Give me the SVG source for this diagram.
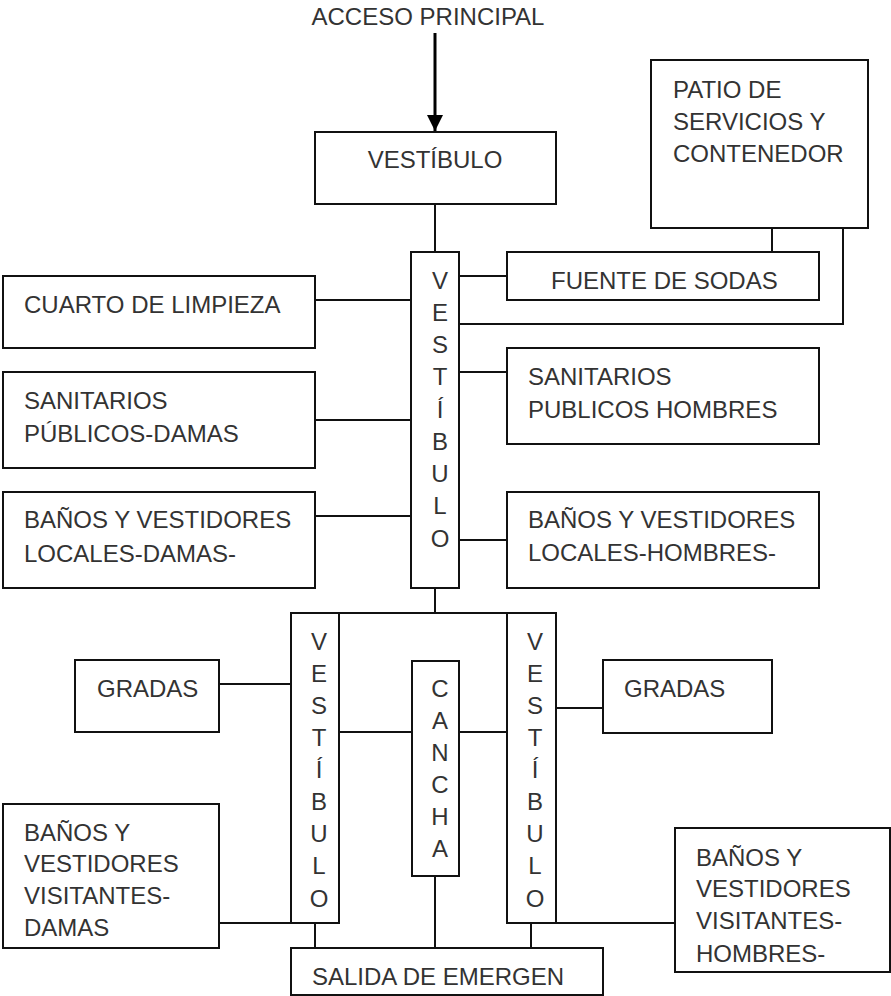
<svg xmlns="http://www.w3.org/2000/svg" width="891" height="996" viewBox="0 0 891 996">
<defs>
<style>
.b{fill:#fff;stroke:#111;stroke-width:2}
.c{fill:none;stroke:#111;stroke-width:2}
.t{font-family:"Liberation Sans",Arial,sans-serif;font-size:24px;fill:#333}
.m{text-anchor:middle}
</style>
<marker id="ah" viewBox="0 0 10 10" refX="10" refY="5" markerWidth="5.5" markerHeight="5.5" orient="auto" markerUnits="strokeWidth">
<path d="M0,0 L10,5 L0,10 Z" fill="#000"/>
</marker>
</defs>
<rect width="891" height="996" fill="#fff"/>
<g id="connectors">
<line x1="435" y1="33" x2="435" y2="131" stroke="#000" stroke-width="3" marker-end="url(#ah)"/>
<path class="c" d="M435,204 V252"/>
<path class="c" d="M460,276 H507"/>
<path class="c" d="M772,228 V252"/>
<path class="c" d="M843,228 V324 H460"/>
<path class="c" d="M315,300 H411"/>
<path class="c" d="M315,420 H411"/>
<path class="c" d="M315,516 H411"/>
<path class="c" d="M460,372 H507"/>
<path class="c" d="M460,540 H507"/>
<path class="c" d="M435,588 V613"/>
<path class="c" d="M291,613 H556"/>
<path class="c" d="M219,684 H291"/>
<path class="c" d="M339,732 H412"/>
<path class="c" d="M459,732 H507"/>
<path class="c" d="M556,708 H603"/>
<path class="c" d="M219,923 H291"/>
<path class="c" d="M556,923 H675"/>
<path class="c" d="M315,923 V948"/>
<path class="c" d="M435,876 V948"/>
<path class="c" d="M531,923 V948"/>
</g>
<text class="t m" x="428" y="25">ACCESO PRINCIPAL</text>
<g id="vestibulo-top">
<rect class="b" x="315" y="132" width="241" height="72"/>
<text class="t m" x="435" y="168">VESTÍBULO</text>
</g>
<g id="patio">
<rect class="b" x="651" y="60" width="217" height="168"/>
<text class="t" x="673" y="98">PATIO DE</text>
<text class="t" x="673" y="130">SERVICIOS Y</text>
<text class="t" x="673" y="162">CONTENEDOR</text>
</g>
<g id="vestibulo-central">
<rect class="b" x="411" y="252" width="48" height="336"/>
<text class="t m"><tspan x="440" y="289">V</tspan><tspan x="440" y="321">E</tspan><tspan x="440" y="353">S</tspan><tspan x="440" y="385">T</tspan><tspan x="440" y="418">Í</tspan><tspan x="440" y="450">B</tspan><tspan x="440" y="482">U</tspan><tspan x="440" y="514">L</tspan><tspan x="440" y="547">O</tspan></text>
</g>
<g id="fuente">
<rect class="b" x="507" y="252" width="312" height="48"/>
<text class="t" x="551" y="289">FUENTE DE SODAS</text>
</g>
<g id="cuarto-limpieza">
<rect class="b" x="3" y="276" width="312" height="72"/>
<text class="t" x="24" y="313">CUARTO DE LIMPIEZA</text>
</g>
<g id="sanitarios-damas">
<rect class="b" x="3" y="372" width="312" height="96"/>
<text class="t" x="24" y="409">SANITARIOS</text>
<text class="t" x="24" y="442">PÚBLICOS-DAMAS</text>
</g>
<g id="banos-locales-damas">
<rect class="b" x="3" y="492" width="312" height="96"/>
<text class="t" x="24" y="528">BAÑOS Y VESTIDORES</text>
<text class="t" x="24" y="562">LOCALES-DAMAS-</text>
</g>
<g id="sanitarios-hombres">
<rect class="b" x="507" y="348" width="312" height="96"/>
<text class="t" x="528" y="385">SANITARIOS</text>
<text class="t" x="528" y="418">PUBLICOS HOMBRES</text>
</g>
<g id="banos-locales-hombres">
<rect class="b" x="507" y="492" width="312" height="96"/>
<text class="t" x="528" y="528">BAÑOS Y VESTIDORES</text>
<text class="t" x="528" y="561">LOCALES-HOMBRES-</text>
</g>
<g id="vestibulo-izq">
<rect class="b" x="291" y="613" width="48" height="310"/>
<text class="t m"><tspan x="319" y="650">V</tspan><tspan x="319" y="682">E</tspan><tspan x="319" y="714">S</tspan><tspan x="319" y="746">T</tspan><tspan x="319" y="778">Í</tspan><tspan x="319" y="810">B</tspan><tspan x="319" y="842">U</tspan><tspan x="319" y="874">L</tspan><tspan x="319" y="907">O</tspan></text>
</g>
<g id="vestibulo-der">
<rect class="b" x="507" y="613" width="49" height="310"/>
<text class="t m"><tspan x="535" y="650">V</tspan><tspan x="535" y="682">E</tspan><tspan x="535" y="714">S</tspan><tspan x="535" y="746">T</tspan><tspan x="535" y="778">Í</tspan><tspan x="535" y="810">B</tspan><tspan x="535" y="842">U</tspan><tspan x="535" y="874">L</tspan><tspan x="535" y="907">O</tspan></text>
</g>
<g id="cancha">
<rect class="b" x="412" y="661" width="47" height="215"/>
<text class="t m"><tspan x="440" y="697">C</tspan><tspan x="440" y="729">A</tspan><tspan x="440" y="761">N</tspan><tspan x="440" y="793">C</tspan><tspan x="440" y="825">H</tspan><tspan x="440" y="857">A</tspan></text>
</g>
<g id="gradas-izq">
<rect class="b" x="75" y="660" width="144" height="72"/>
<text class="t" x="97" y="697">GRADAS</text>
</g>
<g id="gradas-der">
<rect class="b" x="603" y="660" width="169" height="73"/>
<text class="t" x="624" y="697">GRADAS</text>
</g>
<g id="banos-visitantes-damas">
<rect class="b" x="3" y="804" width="216" height="144"/>
<text class="t" x="24" y="841">BAÑOS Y</text>
<text class="t" x="24" y="872">VESTIDORES</text>
<text class="t" x="24" y="904">VISITANTES-</text>
<text class="t" x="24" y="936">DAMAS</text>
</g>
<g id="banos-visitantes-hombres">
<rect class="b" x="675" y="828" width="215" height="144"/>
<text class="t" x="696" y="866">BAÑOS Y</text>
<text class="t" x="696" y="897">VESTIDORES</text>
<text class="t" x="696" y="929">VISITANTES-</text>
<text class="t" x="696" y="962">HOMBRES-</text>
</g>
<g id="salida">
<rect class="b" x="291" y="948" width="312" height="47"/>
<text class="t" x="312" y="985">SALIDA DE EMERGEN</text>
</g>
</svg>
